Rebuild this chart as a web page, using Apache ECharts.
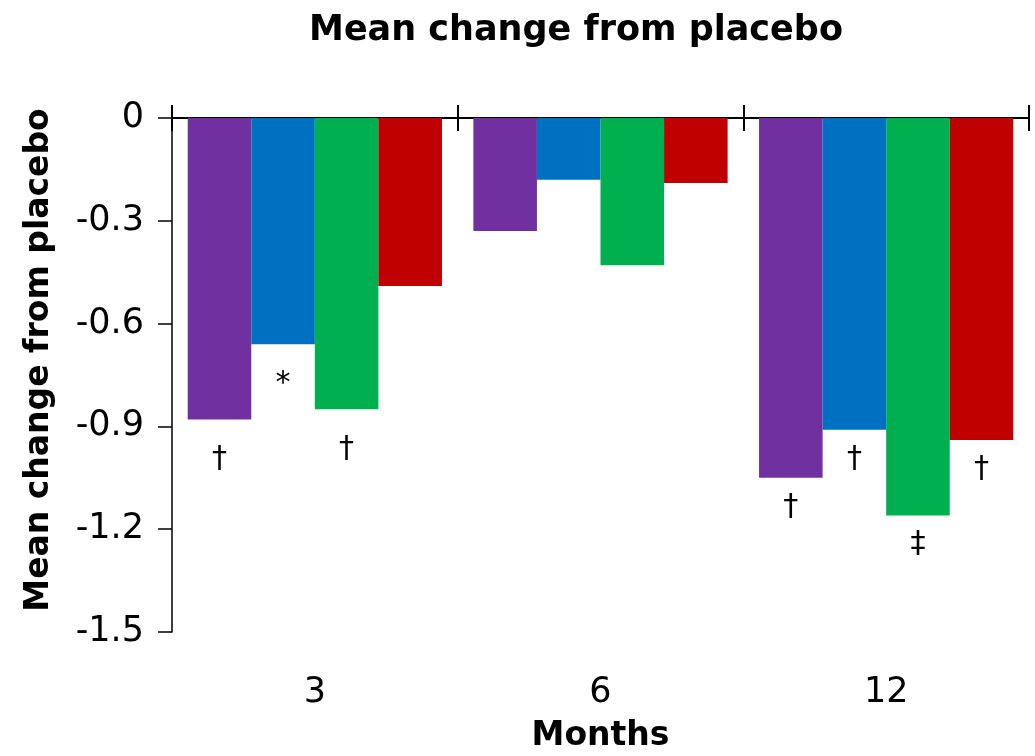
<!DOCTYPE html>
<html>
<head>
<meta charset="utf-8">
<script src="https://cdn.jsdelivr.net/npm/echarts@6/dist/echarts.min.js"></script>
<style>html,body{margin:0;padding:0;background:#fff;}#c{width:1035px;height:756px;}</style>
</head>
<body>
<div id="c"></div>
<script>
const categories = ['3', '6', '12'];
const purpleValues = [-0.88, -0.33, -1.05];
const blueValues = [-0.66, -0.18, -0.91];
const greenValues = [-0.85, -0.43, -1.16];
const redValues = [-0.49, -0.19, -0.94];
const purpleMarks = ['†', '', '†'];
const blueMarks = ['*', '', '†'];
const greenMarks = ['†', '', '‡'];
const redMarks = ['', '', '†'];
const yTicks = [0, -0.3, -0.6, -0.9, -1.2, -1.5];

// label gap below bars, per category (style)
const markGap = [25, 14, 14];

const FONT = '"DejaVu Sans", "Open Sans", sans-serif';
function mk(name, color, values, marks) {
  return {
    name: name, type: 'bar', xAxisIndex: 0, yAxisIndex: 0,
    barGap: '0%', barCategoryGap: '11%',
    itemStyle: { color: color },
    data: values.map((v, i) => ({ value: v, label: { formatter: marks[i], distance: markGap[i] } })),
    label: { show: true, position: 'bottom', color: '#000', fontSize: 30, fontFamily: FONT }
  };
}
const chart = echarts.init(document.getElementById('c'), null, { renderer: 'canvas' });
chart.setOption({
  animation: false,
  backgroundColor: '#fff',
  title: {
    text: 'Mean change from placebo', left: 571, top: 8, textAlign: 'center',
    textStyle: { fontSize: 35, fontWeight: 'bold', color: '#000', fontFamily: FONT }
  },
  grid: { left: 172, right: 6, top: 118, bottom: 124, containLabel: false, outerBoundsMode: 'none' },
  xAxis: [
    { type: 'category', data: categories, position: 'top',
      axisLine: { onZero: false, lineStyle: { color: '#000', width: 2 } },
      axisTick: { show: true, inside: false, length: 13, lineStyle: { color: '#000', width: 2 } },
      axisLabel: { show: false }, splitLine: { show: false } },
    { type: 'category', data: categories, position: 'top',
      axisLine: { onZero: false, lineStyle: { color: '#000', width: 2 } },
      axisTick: { show: true, inside: true, length: 13, lineStyle: { color: '#000', width: 2 } },
      axisLabel: { show: false }, splitLine: { show: false } },
    { type: 'category', data: categories, position: 'bottom',
      axisLine: { show: false, onZero: false }, axisTick: { show: false },
      axisLabel: { show: true, fontSize: 35, color: '#000', margin: 43, fontFamily: FONT },
      name: 'Months', nameLocation: 'middle', nameGap: 88,
      nameTextStyle: { fontSize: 33, fontWeight: 'bold', color: '#000', fontFamily: FONT } }
  ],
  yAxis: {
    type: 'value', min: -1.5, max: 0, interval: 0.3,
    axisLine: { show: true, onZero: false, lineStyle: { color: '#000', width: 1.5 } },
    axisTick: { show: true, length: 14, lineStyle: { color: '#000', width: 1.5 } },
    splitLine: { show: false },
    axisLabel: { fontSize: 35, color: '#000', margin: 28, fontFamily: FONT,
      formatter: v => { const t = yTicks.find(x => Math.abs(x - v) < 1e-6); return t === undefined ? '' : String(t); } },
    name: 'Mean change from placebo', nameLocation: 'middle', nameGap: 116,
    nameTextStyle: { fontSize: 33, fontWeight: 'bold', color: '#000', fontFamily: FONT, padding: [0, 0, 0, 30] }
  },
  series: [
    mk('Purple', '#7030A0', purpleValues, purpleMarks),
    mk('Blue', '#0070C0', blueValues, blueMarks),
    mk('Green', '#00B050', greenValues, greenMarks),
    mk('Red', '#C00000', redValues, redMarks)
  ]
});
</script>
</body>
</html>
